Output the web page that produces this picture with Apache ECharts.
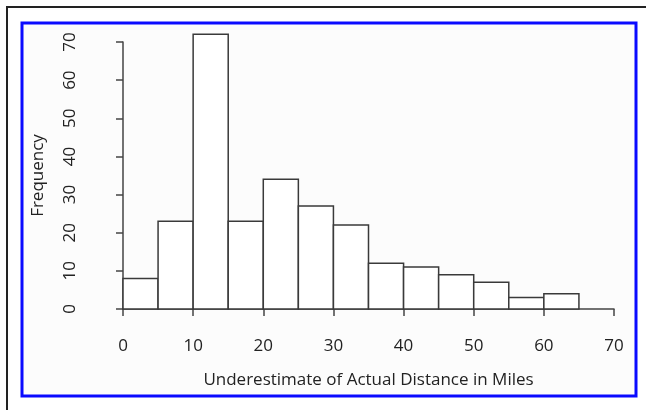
<!DOCTYPE html>
<html><head><meta charset="utf-8">
<script src="https://cdn.jsdelivr.net/npm/echarts@6/dist/echarts.min.js"></script>
<style>html,body{margin:0;padding:0;background:#fff}#c{width:646px;height:410px}</style>
</head><body><div id="c"></div>
<script>
var binStarts = [0, 5, 10, 15, 20, 25, 30, 35, 40, 45, 50, 55, 60];
var binWidth = 5;
var frequencies = [8, 23, 72, 23, 34, 27, 22, 12, 11, 9, 7, 3, 4];
var xTicks = [0, 10, 20, 30, 40, 50, 60, 70];
var yTicks = [0, 10, 20, 30, 40, 50, 60, 70];
var xTitle = 'Underestimate of Actual Distance in Miles';
var yTitle = 'Frequency';

var data = binStarts.map(function (s, i) { return [s, s + binWidth, frequencies[i]]; });
var font = 'Open Sans';
var chart = echarts.init(document.getElementById('c'), null, {renderer: 'canvas'});
chart.setOption({
  animation: false,
  backgroundColor: '#fff',
  graphic: [
    {type: 'rect', shape: {x: 7, y: 7, width: 660, height: 420}, style: {fill: 'none', stroke: '#222', lineWidth: 2}, z: -10},
    {type: 'rect', shape: {x: 22, y: 23, width: 614, height: 373}, style: {fill: '#fcfcfc', stroke: '#0a0aff', lineWidth: 3}, z: -9}
  ],
  grid: {left: 123, right: 32, top: 42, bottom: 101},
  xAxis: {
    type: 'value', min: 0, max: 70, interval: 10, offset: 12,
    name: xTitle, nameLocation: 'middle', nameGap: 51,
    nameTextStyle: {fontFamily: font, fontSize: 17, color: '#222'},
    axisLine: {show: true, lineStyle: {color: '#444', width: 1.5}},
    axisTick: {show: true, length: 7, lineStyle: {color: '#444', width: 1.5}},
    axisLabel: {fontFamily: font, fontSize: 17, color: '#222', margin: 17,
      formatter: function (v) { return xTicks.indexOf(v) >= 0 ? String(v) : ''; }},
    splitLine: {show: false}
  },
  yAxis: {
    type: 'value', min: 0, max: 70, interval: 10, offset: 23,
    name: yTitle, nameLocation: 'middle', nameGap: 53,
    nameTextStyle: {fontFamily: font, fontSize: 17, color: '#222'},
    axisLine: {show: true, lineStyle: {color: '#444', width: 1.5}},
    axisTick: {show: true, length: 7, lineStyle: {color: '#444', width: 1.5}},
    axisLabel: {fontFamily: font, fontSize: 17, color: '#222', margin: 21, rotate: 90,
      formatter: function (v) { return yTicks.indexOf(v) >= 0 ? String(v) : ''; }},
    splitLine: {show: false}
  },
  series: [{
    type: 'custom', clip: false, data: data,
    renderItem: function (params, api) {
      var p0 = api.coord([api.value(0), 0]);
      var p1 = api.coord([api.value(1), api.value(2)]);
      return {type: 'rect',
        shape: {x: p0[0], y: p1[1], width: p1[0] - p0[0], height: p0[1] - p1[1]},
        style: {fill: '#fff', stroke: '#3a3a3a', lineWidth: 1.5}};
    },
    encode: {x: [0, 1], y: 2}
  }]
});
</script></body></html>
